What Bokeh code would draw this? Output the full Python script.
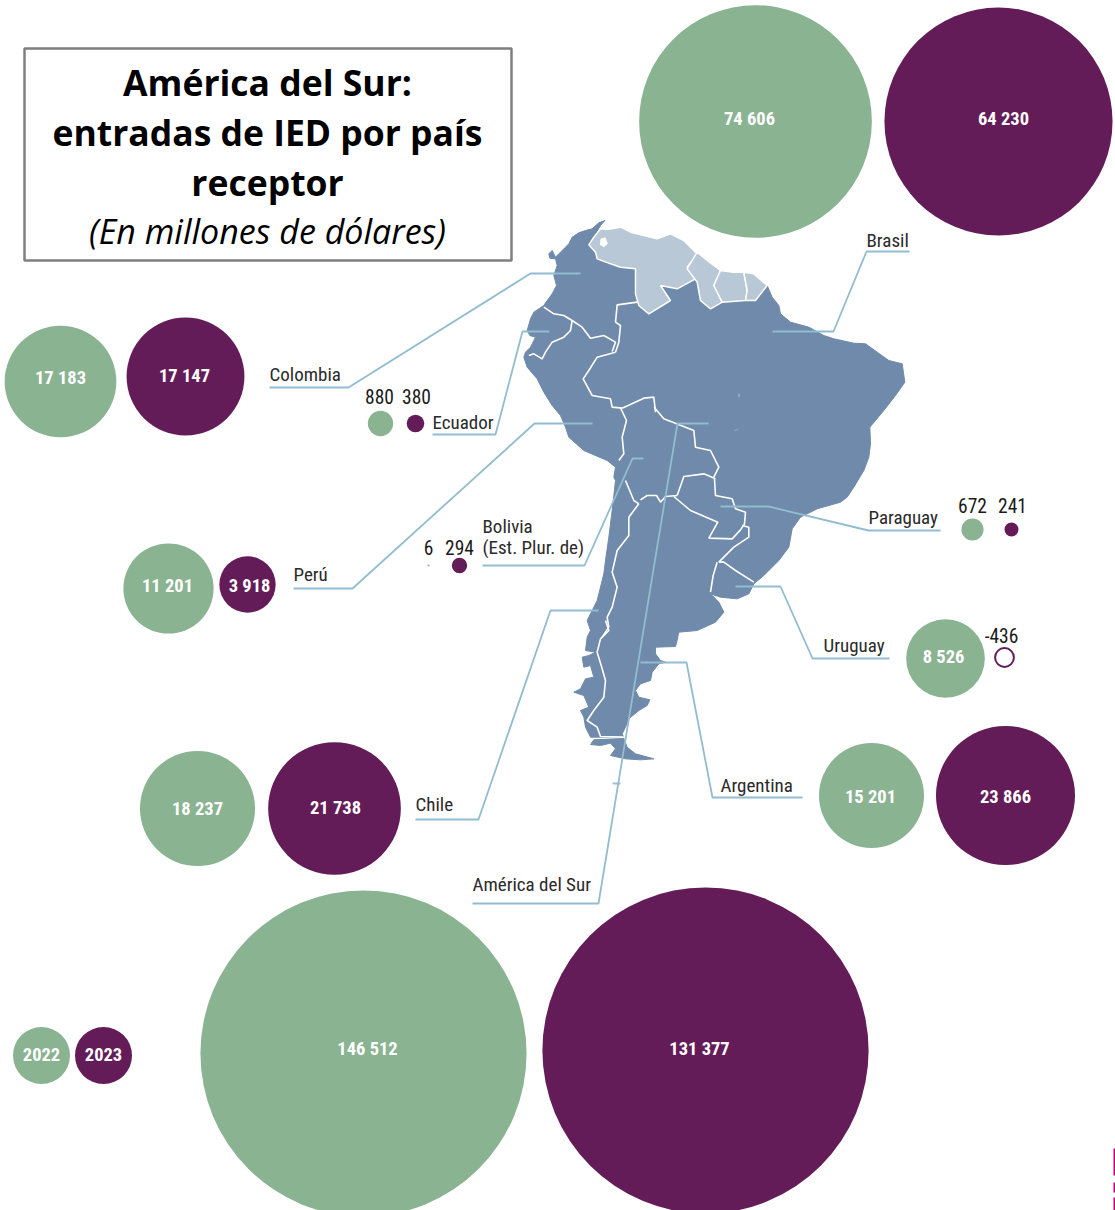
from bokeh.plotting import figure
from bokeh.models import ColumnDataSource, Range1d
from bokeh.core.properties import value
from bokeh.embed import file_html
from bokeh.resources import INLINE
import math

countries = ["Brasil", "Colombia", "Ecuador", "Perú", "Bolivia", "Paraguay", "Uruguay", "Chile", "Argentina", "América del Sur"]
ied_2022 = [74606, 17183, 880, 11201, 6, 672, 8526, 18237, 15201, 146512]
ied_2023 = [64230, 17147, 380, 3918, 294, 241, -436, 21738, 23866, 131377]
legend_years = ["2022", "2023"]

GREEN, PURPLE = "#8ab392", "#641c58"
LEAD = "#92bccf"
MAP, MAP_L = "#6f8aaa", "#b8c8d6"
NARROW = "Roboto Condensed, DejaVu Sans Condensed, Roboto"

# circle centres on the page
pos_2022 = [(755,121),(60,381),(380,423),(168,588),(428,565),(972,529),(945,658),(197,808),(871,795),(363,1053)]
pos_2023 = [(998,121),(185,376),(415,423),(247,584),(459,565),(1011,529),(1004,657),(334,808),(1005,795),(705,1050)]
K22, K23 = 0.426, 0.45

p = figure(width=1115, height=1210, x_range=Range1d(0, 1115), y_range=Range1d(1210, 0),
           output_backend="svg", toolbar_location=None, min_border=0)
p.axis.visible = False
p.grid.visible = False
p.outline_line_color = None
p.background_fill_color = "white"

def frame(ox, oy):
    def f(pts): return [ox+a/3 for a,b in pts], [oy+b/3 for a,b in pts]
    return f
z1 = frame(500, 210)
z2 = frame(540, 480)
zA = frame(510, 215)
zB = frame(640, 440)
zC = frame(560, 620)
def join(*parts):
    xs, ys = [], []
    for (x, y) in parts:
        xs += x; ys += y
    return xs, ys

# --- map outlines
cont_x, cont_y = join(
 zA([(283,15),(265,22),(245,40),(225,45),(205,52),(185,65),(175,85),(150,110),(135,125),(125,105),(115,115),(118,128),(135,130),(140,150),(130,180),(138,210),(125,235),(105,262),(100,270),(70,290),(60,310),(50,345),(58,360),(75,365),(60,395),(45,410),(40,425),(50,455),(80,490),(100,530),(125,570),(150,600)]),
 z1([(195,650),(205,680),(250,720),(320,750),(345,770),(340,800)]),
 z2([(225,0),(215,90),(205,170),(195,240),(190,280),(170,360),(150,400)]),
 zC([(80,0),(90,30),(80,50),(75,90),(105,95),(85,105),(65,110),(70,140),(90,135),(100,170),(75,175),(60,205),(40,215),(70,225),(85,260),(60,270),(70,290),(75,320),(90,350),(190,350),(185,340),(195,320),(205,295),(235,270),(260,255),(268,238),(235,230),(225,210),(240,190),(270,180),(275,155),(295,130),(315,125),(300,120),(285,100),(285,80),(345,78),(350,60),(355,32)]),
 zB([(115,575),(170,570),(225,545),(250,515),(235,485),(210,460),(240,470),(290,475),(325,460),(340,430),(370,405),(415,360),(445,320),(455,265),(480,230),(530,205),(600,185)]),
 z1([(1040,860),(1060,830),(1090,780),(1105,740),(1110,700),(1108,650),(1150,600),(1185,555),(1213,515),(1205,460),(1165,450),(1130,425),(1095,400),(1060,398),(1000,385),(970,375),(925,350),(870,335),(840,310),(835,285),(815,260),(800,225),(765,270),(735,270),(700,265),(665,275),(630,295),(600,270),(590,215)]),
 zA([(555,190),(500,220),(450,210),(480,255),(415,295),(385,270),(375,235),(375,160),(330,155),(300,145),(260,130),(255,110),(235,88),(250,65),(270,30)]),
)
p.patch(cont_x, cont_y, fill_color=MAP, line_color=MAP, line_width=1)

fuego = zC([(90,372),(120,375),(150,368),(165,385),(150,405),(195,415),(240,418),(280,415),(225,400),(200,380),(190,354),(100,358)])
p.patch(*fuego, fill_color=MAP, line_color=MAP, line_width=1)
falk = z2([(215,906),(240,906),(240,912),(218,912)])
p.patch(*falk, fill_color="#a9bacb", line_color=None)

venezuela = [(270,40),(250,65),(235,88),(255,110),(260,130),(300,145),(330,155),(375,160),(375,235),(385,270),(415,295),(480,255),(450,210),(500,220),(555,190),(530,155),(565,110),(555,110),(520,75),(480,55),(440,70),(400,60),(360,50),(330,35),(290,42)]
p.patch(*zA(venezuela), fill_color=MAP_L, line_color="white", line_width=1.5)
p.patch(*zA([(270,70),(285,65),(292,85),(280,95),(268,88)]), fill_color="white", line_color=None)
for poly in [
 [(590,125),(560,175),(590,215),(600,270),(630,295),(665,275),(640,225),(660,180),(620,150)],
 [(660,180),(640,225),(665,275),(735,270),(740,240),(730,185),(700,185)],
 [(730,185),(740,240),(735,270),(765,270),(800,225),(760,190)],
]:
    p.patch(*z1(poly), fill_color=MAP_L, line_color="white", line_width=1.5)

border_groups = [
 (zA, [
  [(100,275),(130,295),(160,300),(185,315)],
  [(185,315),(180,345),(160,365),(125,380),(105,410),(95,430),(70,415),(55,420)],
  [(185,315),(215,335),(240,368),(280,360),(315,380),(305,408)],
  [(380,260),(320,268),(315,320),(330,330),(325,380),(315,410)],
  [(315,410),(260,425),(235,465),(218,490),(245,540),(300,550),(305,575),(335,578)],
  [(335,578),(400,548),(430,545),(435,590)],
 ]),
 (z1, [
  [(461,590),(490,625),(580,660),(585,710),(630,720),(655,770),(640,800)],
  [(360,592),(378,630),(365,680),(370,730),(355,750)],
 ]),
 (zB, [
  [(225,115),(190,100),(130,108),(110,165)],
  [(110,165),(75,168),(60,185),(48,165),(20,165),(0,178)],
  [(222,115),(225,165),(275,175),(285,205),(315,215),(312,250),(300,268),(275,295),(205,293),(232,245),(150,210),(100,168)],
  [(305,255),(325,260),(325,290),(280,320),(235,365)],
  [(235,365),(250,365),(285,390),(340,425)],
  [(230,365),(218,405),(210,455)],
 ]),
 (z2, [
  [(255,0),(280,60),(295,70)],
  [(295,70),(265,110),(265,165),(230,210),(215,275),(230,320),(215,380),(200,410),(205,440),(185,470)],
 ]),
 (zC, [
  [(135,0),(145,30),(120,55),(110,95),(125,145),(135,180),(130,230),(100,270),(80,300),(110,320),(120,348),(190,350)],
 ]),
]
for fn, lines in border_groups:
    for b in lines:
        p.line(*fn(b), line_color="white", line_width=1.6)
p.patch(*z1([(712,549),(719,549),(719,559),(712,559)]), fill_color="#8fa6bf", line_color=None)
p.patch(*z1([(700,660),(714,653),(714,657),(702,663)]), fill_color="#8fa6bf", line_color=None)

# --- leader lines
leaders = [
 [(909,251),(866,251),(833,331),(772,331)],
 [(269,387),(348,387),(530,273),(580,273)],
 [(432,434),(495,434),(522,331),(549,331)],
 [(293,588),(352,588),(534,423),(592,423)],
 [(482,565),(584,565),(632,458),(643,458)],
 [(720,506),(768,506),(868,530),(940,530)],
 [(735,586),(780,586),(812,658),(889,658)],
 [(415,819),(478,819),(550,610),(598,610)],
 [(640,662),(686,662),(712,797),(802,797)],
 [(472,903),(598,903),(677,423),(708,423)],
]
for l in leaders:
    p.line([a for a,b in l], [b for a,b in l], line_color=LEAD, line_width=1.8)

# --- bubbles from the values
def rad(v, k): return k*math.sqrt(abs(v))
src22 = ColumnDataSource(dict(x=[a for a,b in pos_2022], y=[b for a,b in pos_2022], r=[rad(v,K22) for v in ied_2022]))
p.circle("x", "y", radius="r", source=src22, fill_color=GREEN, line_color=None)
pos23 = [q for q,v in zip(pos_2023, ied_2023) if v > 0]
val23 = [v for v in ied_2023 if v > 0]
src23 = ColumnDataSource(dict(x=[a for a,b in pos23], y=[b for a,b in pos23], r=[rad(v,K23) for v in val23]))
p.circle("x", "y", radius="r", source=src23, fill_color=PURPLE, line_color=None)
neg23 = [(q,v) for q,v in zip(pos_2023, ied_2023) if v < 0]
srcn = ColumnDataSource(dict(x=[q[0] for q,v in neg23], y=[q[1] for q,v in neg23], r=[rad(v,K23) for q,v in neg23]))
p.circle("x", "y", radius="r", source=srcn, fill_color="white", line_color=PURPLE, line_width=2)

# legend bubbles
p.circle([41,103], [1055,1055], radius=28.5, fill_color=[GREEN,PURPLE], line_color=None)

def fmt(v):
    return f"{v:,}".replace(",", " ")

white_pos_22 = {0:(749,118),1:(60,377),3:(167,585),6:(943,656),7:(197,808),8:(870,796),9:(367,1048)}
white_pos_23 = {0:(1003,118),1:(184,375),3:(249,585),7:(335,807),8:(1005,796),9:(699,1048)}
black_pos_22 = {2:(379,396),4:(428,547),5:(972,505)}
black_pos_23 = {2:(416,396),4:(459,547),5:(1012,505),6:(1001,635)}

wx, wy, wt = [], [], []
for d, vals in ((white_pos_22, ied_2022), (white_pos_23, ied_2023)):
    for i,(a,b) in d.items():
        wx.append(a); wy.append(b); wt.append(fmt(vals[i]))
wx += [41,103]; wy += [1054,1054]; wt += legend_years
p.text(wx, wy, text=wt, text_color="white", text_font=value(NARROW), text_font_style="bold",
       text_font_size="18.5px", text_align="center", text_baseline="middle")

bx, by, bt = [], [], []
for d, vals in ((black_pos_22, ied_2022), (black_pos_23, ied_2023)):
    for i,(a,b) in d.items():
        bx.append(a); by.append(b); bt.append(fmt(vals[i]))
p.text(bx, by, text=bt, text_color="#1a1a1a", text_font=value(NARROW),
       text_font_size="19.5px", text_align="center", text_baseline="middle")

lab_pos = [(866,240),(269,374),(432,422),(293,574),(482,526),(868,517),(823,645),(415,804),(720,785),(472,884)]
lx = [a for a,b in lab_pos]+[482]
ly = [b for a,b in lab_pos]+[547]
lt = countries+["(Est. Plur. de)"]
p.text(lx, ly, text=lt, text_color="#2a2a2a", text_font=value(NARROW),
       text_font_size="19px", text_align="left", text_baseline="middle")

# --- title box
p.quad(left=[24], right=[511], top=[48], bottom=[260], fill_color="white", line_color="#7f7f7f", line_width=2.5)
title_lines = ["América del Sur:", "entradas de IED por país", "receptor"]
p.text([267]*3, [81,131,181], text=title_lines, text_color="black", text_font=value("Open Sans"),
       text_font_style="bold", text_font_size="35.5px", text_align="center", text_baseline="middle")
p.text([267], [230], text=["(En millones de dólares)"], text_color="black", text_font=value("Open Sans"),
       text_font_style="italic", text_font_size="34px", text_align="center", text_baseline="middle")

# --- sliver of a mark at the right edge
p.quad(left=[1113]*3, right=[1115]*3, top=[1148,1182,1197], bottom=[1175,1192,1210], fill_color="#c4007a", line_color=None)

open("out.html", "w").write(file_html(p, INLINE))
